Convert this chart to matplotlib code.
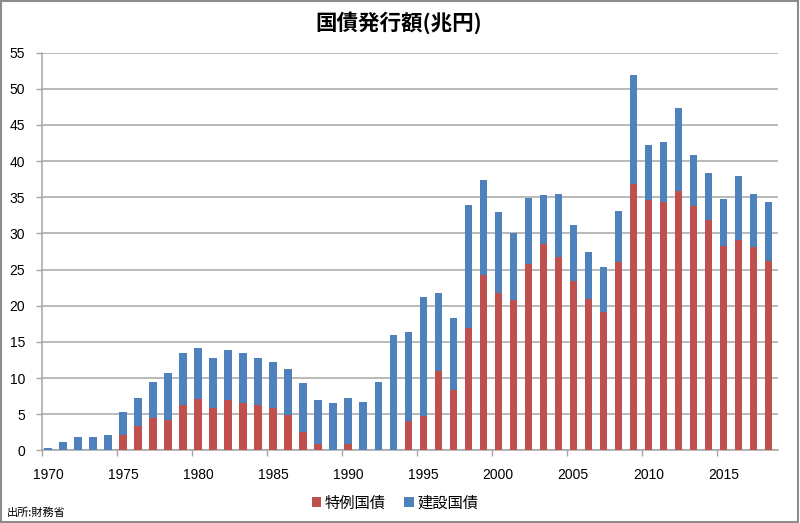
import matplotlib
matplotlib.use("Agg")
import matplotlib.pyplot as plt
from matplotlib.patches import Rectangle, Patch
import numpy as np

plt.rcParams['font.family'] = ['Liberation Sans', 'Noto Sans CJK JP', 'DejaVu Sans']

years = list(range(1970, 2019))
tokurei = [0, 0, 0, 0, 0, 2.1, 3.4, 4.4, 4.2, 6.2,
           7.1, 5.8, 6.9, 6.6, 6.2, 5.9, 4.9, 2.5, 0.9, 0.1,
           0.9, 0, 0, 0, 4.1, 4.8, 11.0, 8.4, 16.9, 24.3,
           21.8, 20.8, 25.8, 28.6, 26.7, 23.4, 20.9, 19.2, 26.1, 36.8,
           34.6, 34.4, 35.9, 33.8, 31.9, 28.3, 29.1, 28.1, 26.2]
kensetsu = [0.3, 1.2, 1.9, 1.8, 2.1, 3.2, 3.8, 5.1, 6.5, 7.2,
            7.1, 7.0, 7.0, 6.8, 6.5, 6.3, 6.3, 6.8, 6.1, 6.5,
            6.3, 6.7, 9.4, 16.0, 12.3, 16.4, 10.7, 9.9, 17.0, 13.1,
            11.1, 9.2, 9.1, 6.7, 8.7, 7.8, 6.5, 6.1, 7.0, 15.1,
            7.7, 8.3, 11.4, 7.0, 6.5, 6.5, 8.8, 7.3, 8.1]
tick_years = [1970, 1975, 1980, 1985, 1990, 1995, 2000, 2005, 2010, 2015]
title = "国債発行額(兆円)"
series_names = ["特例国債", "建設国債"]
source = "出所:財務省"

red = "#C0504D"
blue = "#4F81BD"
grid_c = "#A6A6A6"

fig = plt.figure(figsize=(8.0, 5.23), dpi=100)
ax = fig.add_axes([41.7/800, 72.7/523, 736/800, 397.6/523])

x = np.array(years)
ax.bar(x, tokurei, width=0.49, color=red, zorder=3)
ax.bar(x, kensetsu, width=0.49, bottom=tokurei, color=blue, zorder=3)

ax.set_xlim(1969.58, 2018.62)
ax.set_ylim(0, 55)
ax.set_yticks(range(0, 56, 5))
ax.yaxis.grid(True, color=grid_c, lw=1.1, zorder=0)
ax.set_axisbelow(True)

ax.set_xticks(tick_years)
ax.set_xticklabels([str(t) for t in tick_years])
ax.set_xticks([t - 0.42 for t in tick_years], minor=True)
ax.tick_params(axis='x', which='major', length=0, pad=13, labelsize=10, labelcolor='#000000')
ax.tick_params(axis='x', which='minor', length=4, color=grid_c, width=1, direction='out')
ax.tick_params(axis='y', length=4, color=grid_c, width=1, pad=8, labelsize=10)

for s in ['top', 'right']:
    ax.spines[s].set_visible(False)
for s in ['left', 'bottom']:
    ax.spines[s].set_color(grid_c)
    ax.spines[s].set_linewidth(1.1)

fig.text(399/800, 1 - 22.5/523, title, ha='center', va='center',
         fontsize=15.5, fontweight='bold', family=['Noto Sans CJK JP', 'DejaVu Sans'])

handles = [Patch(facecolor=red), Patch(facecolor=blue)]
fig.legend(handles, series_names, loc='center', bbox_to_anchor=(0.494, 1 - 503/523),
           ncol=2, frameon=False, handlelength=0.6, handleheight=0.6,
           handletextpad=0.25, columnspacing=1.2,
           prop={'family': ['Noto Sans CJK JP', 'DejaVu Sans'], 'size': 11})

fig.text(7/800, 1 - 513/523, source, ha='left', va='center', fontsize=8,
         family=['Noto Sans CJK JP', 'DejaVu Sans'])

fig.patches.append(Rectangle((1/800, 1.5/523), 796.5/800, 520.5/523, transform=fig.transFigure,
                             fill=False, edgecolor='#8C8C8C', lw=1.5))

fig.savefig("out.png", dpi=100)
